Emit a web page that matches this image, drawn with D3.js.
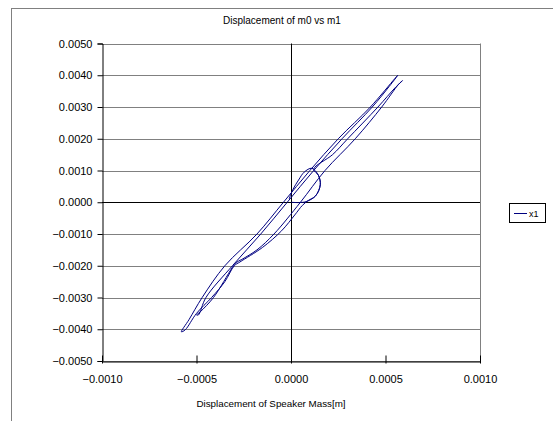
<!DOCTYPE html>
<html><head><meta charset="utf-8">
<script src="https://cdn.jsdelivr.net/npm/d3@7"></script>
<style>body{margin:0;background:#fff;overflow:hidden}</style>
</head><body>
<script>
const chartTitle = "Displacement of m0 vs m1";
const xAxisLabel = "Displacement of Speaker Mass[m]";
const seriesName = "x1";
const xTicks = [-0.0010, -0.0005, 0.0000, 0.0005, 0.0010];
const yTicks = [-0.0050, -0.0040, -0.0030, -0.0020, -0.0010, 0.0000, 0.0010, 0.0020, 0.0030, 0.0040, 0.0050];

// Displacement of speaker mass (m1) — x values
const xs = [
  0.00000, 0.00004, 0.00008, 0.00013, 0.000155, 0.000145, 0.00012,
  0.00022, 0.00030, 0.00046, 0.00055, 0.00059,
  0.00057, 0.00048, 0.00034, 0.00018, 0.00005, -0.00009, -0.00018, -0.00026, -0.00029, -0.00031, -0.00041, -0.00048, -0.00050,
  -0.00049, -0.00045, -0.00031, -0.00016, -0.00002, 0.00012, 0.00027, 0.00043, 0.00052, 0.000565,
  0.00055, 0.00042, 0.00025, 0.00010, -0.00004, -0.00018, -0.00035, -0.00047, -0.00054, -0.00058,
  -0.00056, -0.00050, -0.00042, -0.00035, -0.00030, -0.00027, -0.00015, -0.00005, 0.00002, 0.00006, 0.00009,
  0.00013, 0.000155, 0.000145, 0.00011, 0.00007, 0.00004, 0.00001, -0.00001
];
// Displacement of m0 — y values
const ys = [
  0.00000, -0.00001, 0.00002, 0.00020, 0.00055, 0.00085, 0.00104,
  0.00150, 0.00200, 0.00300, 0.00360, 0.00383,
  0.00372, 0.00300, 0.00200, 0.00100, 0.00000, -0.00100, -0.00150, -0.00180, -0.00190, -0.00205, -0.00300, -0.00345, -0.00355,
  -0.00355, -0.00300, -0.00200, -0.00100, 0.00000, 0.00100, 0.00200, 0.00300, 0.00365, 0.00400,
  0.00390, 0.00300, 0.00200, 0.00100, 0.00000, -0.00100, -0.00200, -0.00300, -0.00370, -0.00408,
  -0.00402, -0.00350, -0.00300, -0.00250, -0.00200, -0.00188, -0.00142, -0.00090, -0.00040, -0.00010, 0.00005,
  0.00020, 0.00055, 0.00085, 0.00107, 0.00095, 0.00070, 0.00040, 0.00010
];

const W = 553, H = 421;
const svg = d3.select("body").append("svg").attr("width", W).attr("height", H)
  .style("font-family", "'Liberation Sans', Arial, sans-serif");

// outer chart border
svg.append("rect").attr("x", 11.5).attr("y", 8.5).attr("width", 700).attr("height", 600)
  .attr("fill", "#fff").attr("stroke", "#808080");

const x = d3.scaleLinear().domain([-0.001, 0.001]).range([102, 480]);
const y = d3.scaleLinear().domain([-0.005, 0.005]).range([361, 43.5]);
const fmt = d3.format(".4f");

// gridlines
svg.append("g").selectAll("line").data(yTicks).join("line")
  .attr("x1", x(-0.001)).attr("x2", x(0.001))
  .attr("y1", d => Math.round(y(d)) + 0.5).attr("y2", d => Math.round(y(d)) + 0.5)
  .attr("stroke", d => d === 0 ? "#000" : "#808080").attr("stroke-width", 1);
// right border
svg.append("line").attr("x1", Math.round(x(0.001)) + 0.5).attr("x2", Math.round(x(0.001)) + 0.5)
  .attr("y1", y(0.005)).attr("y2", y(-0.005)).attr("stroke", "#808080");
// vertical zero line
svg.append("line").attr("x1", Math.round(x(0)) + 0.5).attr("x2", Math.round(x(0)) + 0.5)
  .attr("y1", y(0.005)).attr("y2", y(-0.005)).attr("stroke", "#000");

// y axis
const yAxis = svg.append("g").attr("transform", `translate(${Math.round(x(-0.001)) + 0.5},0)`)
  .call(d3.axisLeft(y).tickValues(yTicks).tickFormat(fmt).tickSize(5).tickPadding(5));
yAxis.select(".domain").attr("stroke", "#000");
yAxis.selectAll("text").attr("font-size", 11).attr("fill", "#000")
  .style("font-family", "'Liberation Sans', Arial, sans-serif");

// x axis
const xAxis = svg.append("g").attr("transform", `translate(0,${Math.round(y(-0.005)) + 0.5})`)
  .call(d3.axisBottom(x).tickValues(xTicks).tickFormat(fmt).tickSizeInner(-6).tickSizeOuter(0).tickPadding(14));
xAxis.select(".domain").attr("stroke", "#000");
xAxis.selectAll(".tick line").attr("y2", -6).attr("y1", 2);
xAxis.selectAll("text").attr("font-size", 11).attr("fill", "#000")
  .style("font-family", "'Liberation Sans', Arial, sans-serif");

// series
const pts = xs.map((v, i) => [v, ys[i]]);
svg.append("path").datum(pts)
  .attr("d", d3.line().x(d => x(d[0])).y(d => y(d[1])).curve(d3.curveCatmullRom.alpha(0.5)))
  .attr("fill", "none").attr("stroke", "#000080").attr("stroke-width", 1);

// title & axis label
svg.append("text").attr("x", 282).attr("y", 24).attr("text-anchor", "middle")
  .attr("font-size", 10).text(chartTitle);
svg.append("text").attr("x", 271).attr("y", 407).attr("text-anchor", "middle")
  .attr("font-size", 9.8).text(xAxisLabel);

// legend
const lg = svg.append("g");
lg.append("rect").attr("x", 509.5).attr("y", 203.5).attr("width", 36).attr("height", 19)
  .attr("fill", "#fff").attr("stroke", "#000");
lg.append("line").attr("x1", 514).attr("x2", 527).attr("y1", 213.5).attr("y2", 213.5)
  .attr("stroke", "#000080");
lg.append("text").attr("x", 529).attr("y", 216.5).attr("font-size", 9).text(seriesName);
</script>
</body></html>
